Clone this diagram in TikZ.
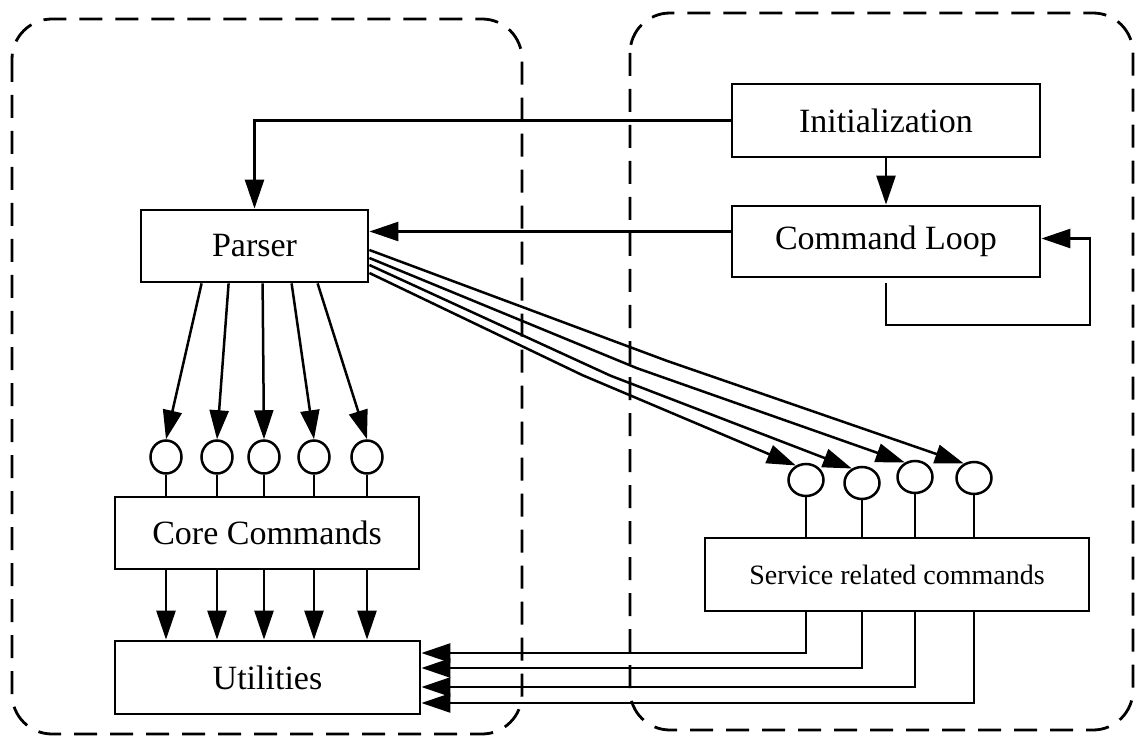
\documentclass[tikz,border=0pt]{standalone}
\usepackage{fontspec}
\setmainfont{Liberation Serif}
\usetikzlibrary{arrows.meta,calc,shapes.geometric}

\begin{document}
\begin{tikzpicture}[x=1pt,y=-1pt,
  box/.style={draw,line width=2.8pt,inner sep=0pt,font=\fontsize{34}{40}\selectfont},
  port/.style={draw,ellipse,line width=2.5pt,inner sep=0pt,minimum width=31pt,minimum height=33pt},
  rport/.style={port,minimum width=35pt,minimum height=32pt},
  link/.style={line width=2.5pt},
  arr/.style={link,-{Triangle[length=29pt,width=19pt]}},
  zone/.style={line width=2.8pt,dash pattern=on 23pt off 13pt,rounded corners=40pt}]
\useasboundingbox (0,0) rectangle (1136,738);

% the two dashed regions
\draw[zone] (12,19) rectangle (522,734);
\draw[zone] (630,13) rectangle (1133,730);

% boxes
\node[box,minimum width=308pt,minimum height=73pt] (init) at (886,120.5) {Initialization};
\node[box,minimum width=308pt,minimum height=71pt] (cl) at (886,241.5) {Command Loop};
\node[box,minimum width=227pt,minimum height=72pt] (parser) at (254.5,246) {Parser};
\node[box,minimum width=304pt,minimum height=72pt] (core) at (267,533) {Core Commands};
\node[box,minimum width=305pt,minimum height=73pt] (util) at (267.5,677.5) {Utilities};
\node[box,minimum width=384pt,minimum height=73pt,font=\fontsize{28}{34}\selectfont] (srv) at (897,574.5) {Service related commands};

% command ports
\node[port] (c1) at (166,457) {};
\node[port] (c2) at (217,457) {};
\node[port] (c3) at (264,457) {};
\node[port] (c4) at (314,457) {};
\node[port] (c5) at (367,457) {};
\node[rport] (r1) at (806,480) {};
\node[rport] (r2) at (862,483) {};
\node[rport] (r3) at (915,477) {};
\node[rport] (r4) at (974,478) {};

% control flow
\draw[arr] (init.west) -| (parser.north);
\draw[arr] (init.south) -- (cl.north);
\coordinate (clout) at ($(cl.west)+(0,-10)$);
\draw[arr] (clout) -- (parser.east |- clout);
\coordinate (loopc) at (1090,325);
\draw[arr] ($(cl.south)+(0,5)$) |- (loopc) |- ($(cl.east)+(0,-3)$);

% parser to core command ports
\foreach \dx/\c in {62/c1,89/c2,123/c3,152/c4,178/c5}
  \draw[arr] ($(parser.south west)+(\dx,0)$) -- (\c.north);
\foreach \c in {c1,c2,c3,c4,c5}{
  \draw[link] (\c.south) -- (\c.south |- core.north);
  \draw[arr] (\c |- core.south) -- (\c |- util.north);
}

% parser to service ports, sagging slightly on the way
\foreach \dy/\r/\s in {4/r4/4,12/r3/8,19/r2/9,27/r1/6}
  \draw[arr] ($(parser.east)+(0,\dy)$) -- ($($(parser.east)+(0,\dy)$)!0.5!(\r.125)+(0,\s)$) -- (\r.125);
\foreach \r/\dy in {r1/-24.5,r2/-9.5,r3/9.5,r4/25.5}{
  \draw[link] (\r.south) -- (\r.south |- srv.north);
  \draw[arr] (\r |- srv.south) |- ($(util.east)+(0,\dy)$);
}
\end{tikzpicture}
\end{document}
